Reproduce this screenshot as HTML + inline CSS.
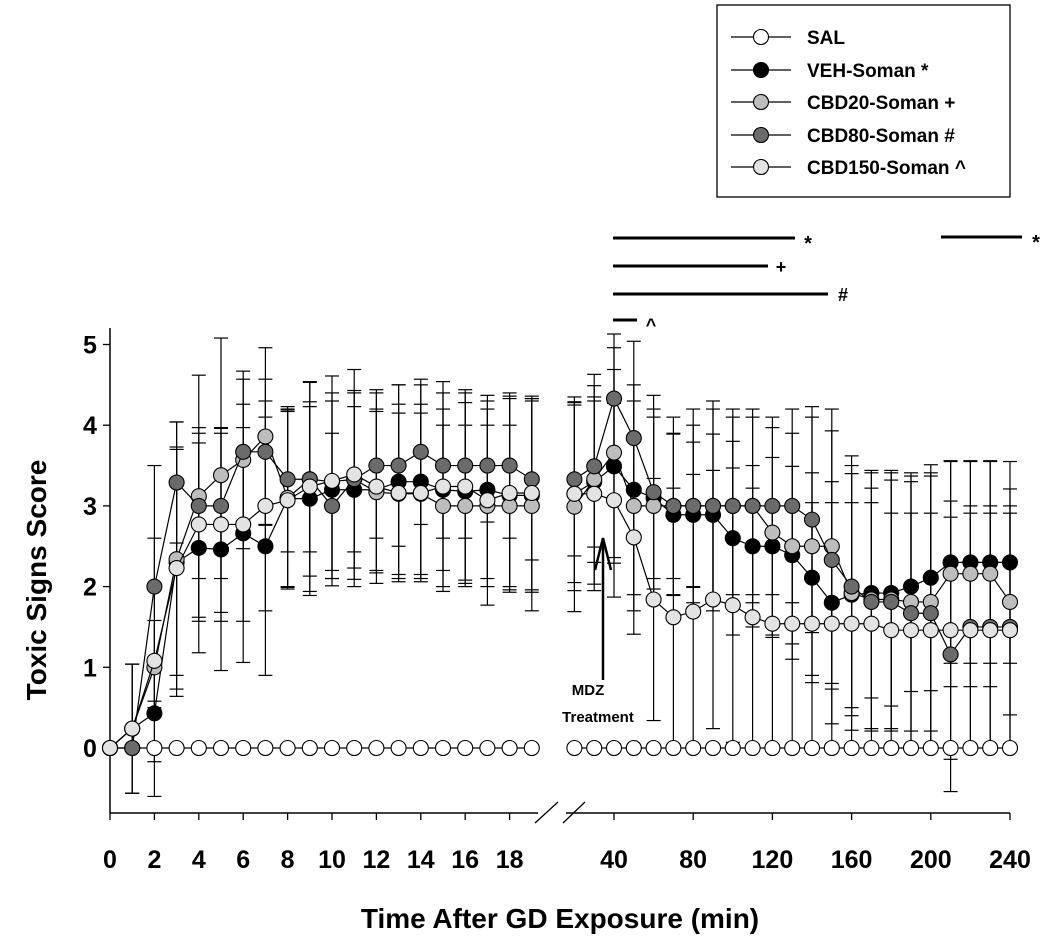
<!DOCTYPE html>
<html><head><meta charset="utf-8"><style>
body{margin:0;background:#fff}
svg{display:block;font-family:"Liberation Sans",Arial,sans-serif;font-weight:bold}
</style></head><body>
<svg id="c" width="1050" height="950" viewBox="0 0 1050 950"></svg>
<script>
const leftTimes=[0,1,2,3,4,5,6,7,8,9,10,11,12,13,14,15,16,17,18,19];
const rightTimes=[20,30,40,50,60,70,80,90,100,110,120,130,140,150,160,170,180,190,200,210,220,230,240];
const leftTicks=[0,2,4,6,8,10,12,14,16,18];
const rightTicks=[40,80,120,160,200,240];
const yTicks=[0,1,2,3,4,5];
const seriesNames=["SAL","VEH-Soman *","CBD20-Soman +","CBD80-Soman #","CBD150-Soman ^"];
const seriesFill=["#ffffff","#000000","#bdbdbd","#6b6b6b","#e3e3e3"];
const salL=[0,0,0,0,0,0,0,0,0,0,0,0,0,0,0,0,0,0,0,0];
const salR=[0,0,0,0,0,0,0,0,0,0,0,0,0,0,0,0,0,0,0,0,0,0,0];
const vehL=[0,0.24,0.43,2.3,2.48,2.46,2.66,2.5,3.09,3.09,3.2,3.2,3.2,3.3,3.3,3.2,3.18,3.2,3.13,3.13];
const vehR=[3.15,3.3,3.49,3.2,3.1,2.89,2.89,2.89,2.6,2.5,2.5,2.39,2.11,1.8,1.9,1.92,1.92,2.0,2.11,2.3,2.3,2.3,2.3];
const c20L=[0,0.24,1.0,2.34,3.12,3.38,3.57,3.86,3.1,3.33,3.3,3.33,3.17,3.15,3.15,3.0,3.0,3.0,3.0,3.0];
const c20R=[2.99,3.33,3.66,3.0,3.0,3.0,3.0,3.0,3.0,3.0,2.67,2.5,2.5,2.5,1.92,1.84,1.84,1.81,1.81,2.16,2.16,2.16,1.81];
const c80L=[0,0,2.0,3.29,3.0,3.0,3.67,3.67,3.33,3.33,3.0,3.33,3.5,3.5,3.67,3.5,3.5,3.5,3.5,3.33];
const c80R=[3.33,3.49,4.33,3.84,3.17,3.0,3.0,3.0,3.0,3.0,3.0,3.0,2.83,2.33,2.0,1.81,1.81,1.67,1.67,1.16,1.5,1.5,1.5];
const c150L=[0,0.24,1.08,2.23,2.77,2.77,2.77,3.0,3.07,3.24,3.31,3.39,3.24,3.16,3.16,3.24,3.24,3.07,3.16,3.16];
const c150R=[3.15,3.15,3.07,2.61,1.84,1.62,1.69,1.84,1.77,1.62,1.54,1.54,1.54,1.54,1.54,1.54,1.46,1.46,1.46,1.46,1.46,1.46,1.46];
const vehLe=[0,0.8,0.6,1.4,1.3,1.5,1.6,1.6,1.1,1.2,1.1,1.2,1.0,1.2,1.2,1.0,1.1,1.1,1.2,1.2];
const c20Le=[0,0.8,1.6,1.7,1.5,1.7,1.1,1.1,1.1,1.2,1.1,1.1,1.0,1.0,1.0,1.0,1.0,1.0,1.0,1.3];
const c80Le=[0,0,1.5,0.75,0.9,0.9,0.9,0.9,0.9,0.9,0.9,0.9,0.9,1.0,0.9,0.9,0.9,0.7,0.9,1.0];
const c150Le=[0,0.8,0.5,1.5,1.2,1.2,1.2,1.3,1.1,1.3,1.3,1.3,1.2,1.1,1.1,1.3,1.2,1.3,1.2,1.2];
const vehRe=[1.1,1.0,1.2,1.3,1.0,1.0,0.9,1.0,1.2,1.0,1.1,1.1,1.3,1.5,1.5,1.3,1.4,1.3,1.4,1.25,1.25,1.25,1.25];
const c20Re=[1.3,1.3,1.3,1.3,1.2,1.1,1.2,1.3,1.2,1.2,1.3,1.4,1.6,1.7,1.7,1.6,1.6,1.6,1.6,1.4,1.4,1.4,1.4];
const c80Re=[0.95,1.0,0.8,1.2,1.2,0.9,1.0,1.2,1.1,1.1,1.1,1.2,1.4,1.6,1.5,1.6,1.6,1.7,1.7,1.7,1.5,1.5,1.5];
const c150Re=[1.2,1.2,1.2,1.2,1.5,1.6,1.7,1.6,1.7,1.6,1.5,1.5,1.5,1.5,1.5,1.5,1.45,1.45,1.45,1.6,1.45,1.45,1.45];

const NS="http://www.w3.org/2000/svg";
const svg=document.getElementById('c');
function xL(t){return 110+t*22.2;}
function xR(t){return 614+(t-40)*1.98;}
function y(v){return 748-v*80.7;}
function mk(tag,attrs,parent){const e=document.createElementNS(NS,tag);for(const k in attrs)e.setAttribute(k,attrs[k]);(parent||svg).appendChild(e);return e;}
function line(x1,y1,x2,y2,w,p){return mk('line',{x1,y1,x2,y2,stroke:'#000','stroke-width':w||1.3},p);}
function txt(x,yy,s,size,anchor,p){const t=mk('text',{x,y:yy,'font-size':size,'text-anchor':anchor||'middle',fill:'#000'},p);t.textContent=s;return t;}

const ax=mk('g',{});


line(110,328,110,813,1.5,ax);
line(110,813,538,813,1.5,ax);
line(566,813,1010,813,1.5,ax);
line(535,823,558,802,1.3,ax);
line(563,823,585,802,1.3,ax);
yTicks.forEach(v=>{line(103,y(v),110,y(v),1.3,ax);const t=txt(90,y(v)+9,String(v),25,'middle',ax);

});
leftTicks.forEach(v=>{line(xL(v),813,xL(v),820,1.3,ax);const t=txt(xL(v),868,String(v),25,'middle',ax);

});
rightTicks.forEach(v=>{line(xR(v),813,xR(v),820,1.3,ax);const t=txt(xR(v),868,String(v),25,'middle',ax);

});
const xt=txt(560,928,'Time After GD Exposure (min)',28,'middle');


const yt=txt(0,0,'Toxic Signs Score',28,'middle');
yt.setAttribute('transform','translate(46,580) rotate(-90)');



const series=[[salL,salR,null,null],[vehL,vehR,vehLe,vehRe],[c20L,c20R,c20Le,c20Re],[c80L,c80R,c80Le,c80Re],[c150L,c150R,c150Le,c150Re]];
series.forEach((s,i)=>{
  if(!s[2])return;
  const g=mk('g',{});
  
  
  [[leftTimes,s[0],s[2],xL],[rightTimes,s[1],s[3],xR]].forEach(([ts,vs,es,fx])=>{
    ts.forEach((t,j)=>{if(!es[j])return;const x=fx(t);
      line(x,y(vs[j]+es[j]),x,y(vs[j]-es[j]),1.2,g);
      line(x-7,y(vs[j]+es[j]),x+7,y(vs[j]+es[j]),1.2,g);
      line(x-7,y(vs[j]-es[j]),x+7,y(vs[j]-es[j]),1.2,g);});
  });
});
series.forEach((s,i)=>{
  const g=mk('g',{});
  
  
  [[leftTimes,s[0],xL],[rightTimes,s[1],xR]].forEach(([ts,vs,fx])=>{
    mk('polyline',{points:ts.map((t,j)=>fx(t)+','+y(vs[j])).join(' '),fill:'none',stroke:'#000','stroke-width':1.2},g);
  });
  [[leftTimes,s[0],xL],[rightTimes,s[1],xR]].forEach(([ts,vs,fx])=>{
    ts.forEach((t,j)=>{const c=mk('circle',{cx:fx(t),cy:y(vs[j]),r:7.5,fill:seriesFill[i],stroke:'#000','stroke-width':1.1},g);
      
      });
  });
});

const sg=mk('g',{});


line(613,238,795,238,3,sg);txt(808,250,'*',20,'middle',sg);
line(613,266,768,266,3,sg);txt(781,273,'+',18,'middle',sg);
line(613,294,828,294,3,sg);txt(843,301,'#',18,'middle',sg);
line(613,320,637,320,3,sg);txt(651,331,'^',18,'middle',sg);
line(941,237,1022,237,3,sg);txt(1036,249,'*',20,'middle',sg);

const md=mk('g',{});


line(603,680,603,540,2.5,md);
mk('polyline',{points:'595,570 603,538 611,570',fill:'none',stroke:'#000','stroke-width':2.5},md);
txt(588,695,'MDZ',15,'middle',md);
txt(598,722,'Treatment',15,'middle',md);

const lg=mk('g',{});


mk('rect',{x:717,y:5,width:293,height:192,fill:'#fff',stroke:'#000','stroke-width':1.3},lg);
const ly=[37,70,102,135,167];
seriesNames.forEach((n,i)=>{
  const e=mk('g',{},lg);
  
  
  line(731,ly[i],791,ly[i],1.2,e);
  mk('circle',{cx:761,cy:ly[i],r:7.5,fill:seriesFill[i],stroke:'#000','stroke-width':1.1},e);
  txt(807,ly[i]+7,n,19,'start',e);
});
</script>
</body></html>
